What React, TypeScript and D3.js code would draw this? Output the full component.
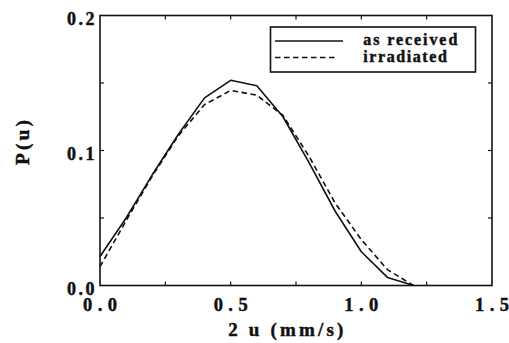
import React from "react";
import * as d3 from "d3";

const xsReceived = [0, 0.1, 0.2, 0.3, 0.4, 0.5, 0.6, 0.7, 0.8, 0.9, 1.0, 1.1, 1.2];
const asReceived = [0.0215, 0.05, 0.082, 0.112, 0.139, 0.152, 0.148, 0.125, 0.091, 0.055, 0.025, 0.006, 0.0];
const xsIrradiated = [0, 0.1, 0.2, 0.3, 0.4, 0.5, 0.6, 0.7, 0.8, 0.9, 1.0, 1.1, 1.2];
const irradiated = [0.014, 0.048, 0.081, 0.111, 0.134, 0.1445, 0.141, 0.126, 0.0956, 0.061, 0.034, 0.0117, 0.0];

const xTickLabels = ["0.0", "0.5", "1.0", "1.5"];
const xTickValues = [0, 0.5, 1.0, 1.5];
const xMinorTicks = [0.25, 0.5, 0.75, 1.0, 1.25];
const yTickLabels = ["0.0", "0.1", "0.2"];
const yTickValues = [0, 0.1, 0.2];
const yMinorTicks = [0.05, 0.1, 0.15];
const legendLabels = ["as received", "irradiated"];

const textStyle: React.CSSProperties = {
  fontFamily: "'Liberation Serif', 'Times New Roman', Times, serif",
  fontWeight: 700,
};

export default function App() {
  const left = 100, right = 492, top = 15.5, bottom = 285.5;
  const x = d3.scaleLinear().domain([0, 1.5]).range([left, right]);
  const y = d3.scaleLinear().domain([0, 0.2]).range([bottom, top]);
  const line = d3.line<[number, number]>().x((d) => x(d[0])).y((d) => y(d[1]));
  const solidPath = line(xsReceived.map((v, i) => [v, asReceived[i]]) as [number, number][]) || "";
  const dashPath = line(xsIrradiated.map((v, i) => [v, irradiated[i]]) as [number, number][]) || "";
  const tl = 4;
  const ts = { stroke: "#111", strokeWidth: 0.45, fill: "#111" };
  return (
    <div style={{ position: "absolute", left: 0, top: 0 }}>
      <svg width={509} height={343} style={{ display: "block", background: "#fff" }}>
        <rect x={0} y={0} width={509} height={343} fill="#fff" />
        <path d={solidPath} fill="none" stroke="#111" strokeWidth={1.6} strokeLinejoin="round" />
        <path d={dashPath} fill="none" stroke="#111" strokeWidth={1.6} strokeDasharray="5.5,3.5" />
        <rect x={left} y={top} width={right - left} height={bottom - top} fill="none" stroke="#111" strokeWidth={1.6} />
        {xMinorTicks.map((v) => (
          <g key={"xt" + v}>
            <line x1={x(v)} x2={x(v)} y1={bottom} y2={bottom - tl} stroke="#111" strokeWidth={1.2} />
            <line x1={x(v)} x2={x(v)} y1={top} y2={top + tl} stroke="#111" strokeWidth={1.2} />
          </g>
        ))}
        {yMinorTicks.map((v) => (
          <g key={"yt" + v}>
            <line x1={left} x2={left + tl} y1={y(v)} y2={y(v)} stroke="#111" strokeWidth={1.2} />
            <line x1={right} x2={right - tl} y1={y(v)} y2={y(v)} stroke="#111" strokeWidth={1.2} />
          </g>
        ))}
        {xTickValues.map((v, i) => (
          <text key={"xl" + v} x={x(v)} y={310.5} textAnchor="middle" style={{ ...textStyle, fontSize: 18.5 }}
            textLength={34} lengthAdjust="spacing" {...ts}>{xTickLabels[i]}</text>
        ))}
        {yTickValues.map((v, i) => (
          <text key={"yl" + v} x={94.5} y={y(v) + 9.5} textAnchor="end" style={{ ...textStyle, fontSize: 18 }}
            textLength={27.5} lengthAdjust="spacing" {...ts}>{yTickLabels[i]}</text>
        ))}
        <text x={285.8} y={336} textAnchor="middle" style={{ ...textStyle, fontSize: 19 }}
          textLength={115} lengthAdjust="spacing" {...ts}>2 u (mm/s)</text>
        <text transform={`translate(29,142.5) rotate(-90)`} textAnchor="middle" style={{ ...textStyle, fontSize: 19.5 }}
          textLength={45} lengthAdjust="spacing" {...ts}>P(u)</text>
        <rect x={270.5} y={27} width={205} height={45} fill="#fff" stroke="#111" strokeWidth={1.6} />
        <line x1={275} x2={343} y1={41} y2={41} stroke="#111" strokeWidth={1.5} />
        <line x1={275} x2={338} y1={57.5} y2={57.5} stroke="#111" strokeWidth={1.5} strokeDasharray="5.5,3.5" />
        <text x={363.3} y={45.3} style={{ ...textStyle, fontSize: 16 }} textLength={94} lengthAdjust="spacing" {...ts}>{legendLabels[0]}</text>
        <text x={363.3} y={62} style={{ ...textStyle, fontSize: 16 }} textLength={83.5} lengthAdjust="spacing" {...ts}>{legendLabels[1]}</text>
      </svg>
    </div>
  );
}
